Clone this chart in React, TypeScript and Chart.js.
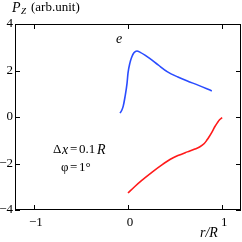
import React, { useEffect, useRef } from "react";
import { Chart, registerables } from "chart.js";
Chart.register(...registerables);

const blueX = [-0.084, -0.065, -0.05, -0.032, -0.01, 0.0, 0.02, 0.04, 0.063, 0.095, 0.13, 0.18, 0.23, 0.32, 0.42, 0.53, 0.63, 0.75, 0.89];
const blueY = [0.17, 0.3, 0.48, 0.86, 1.46, 1.89, 2.32, 2.58, 2.76, 2.84, 2.78, 2.66, 2.52, 2.24, 1.94, 1.72, 1.55, 1.36, 1.12];
const redX = [0.0, 0.07, 0.14, 0.26, 0.36, 0.45, 0.53, 0.63, 0.71, 0.76, 0.81, 0.84, 0.86, 0.89, 0.92, 0.95, 0.97, 1.0];
const redY = [-3.27, -3.0, -2.75, -2.36, -2.06, -1.82, -1.66, -1.5, -1.38, -1.29, -1.14, -0.98, -0.86, -0.66, -0.43, -0.24, -0.13, -0.03];
const xTicks = [-1, 0, 1];
const yTicks = [-4, -2, 0, 2, 4];
const xLabels = ["\u22121", "0", "1"];
const yLabels = ["\u22124", "\u22122", "0", "2", "4"];

const SERIF = "'Times New Roman', 'Liberation Serif', serif";

const framePlugin = {
  id: "frame",
  afterDraw(chart: any) {
    const { ctx, chartArea: a, scales } = chart;
    const xs = scales.x, ys = scales.y;
    ctx.save();
    ctx.strokeStyle = "#000";
    ctx.lineWidth = 1;
    ctx.strokeRect(a.left + 0.5, a.top + 0.5, a.right - a.left - 1, a.bottom - a.top - 1);
    ctx.beginPath();
    const tl = 5;
    xTicks.forEach((v) => {
      const p = Math.round(xs.getPixelForValue(v)) + 0.5;
      ctx.moveTo(p, a.bottom); ctx.lineTo(p, a.bottom - tl);
      ctx.moveTo(p, a.top); ctx.lineTo(p, a.top + tl);
    });
    yTicks.forEach((v) => {
      const p = Math.round(ys.getPixelForValue(v)) + 0.5;
      ctx.moveTo(a.left, p); ctx.lineTo(a.left + tl, p);
      ctx.moveTo(a.right, p); ctx.lineTo(a.right - tl, p);
    });
    ctx.stroke();
    ctx.fillStyle = "#000";
    ctx.font = "13px " + SERIF;
    ctx.textBaseline = "middle";
    ctx.textAlign = "right";
    yTicks.forEach((v, i) => {
      ctx.fillText(yLabels[i], a.left - 2, ys.getPixelForValue(v));
    });
    ctx.textAlign = "center";
    xTicks.forEach((v, i) => {
      ctx.fillText(xLabels[i], xs.getPixelForValue(v) + 2, a.bottom + 13);
    });
    ctx.textAlign = "left";
    ctx.font = "italic 14px " + SERIF;
    ctx.fillText("r/R", 200, 233);
    ctx.font = "italic 14px " + SERIF;
    ctx.fillText("P", 12, 8);
    ctx.font = "italic 9px " + SERIF;
    ctx.fillText("Z", 21, 12);
    ctx.font = "13px " + SERIF;
    ctx.fillText("(arb.unit)", 31, 8);
    ctx.font = "italic 14px " + SERIF;
    ctx.fillText("e", 116, 39);
    ctx.font = "13px " + SERIF;
    ctx.fillText("\u0394", 53, 150);
    ctx.font = "italic 14px " + SERIF;
    ctx.fillText("x", 62, 150);
    ctx.font = "13px " + SERIF;
    ctx.fillText("=", 70, 150);
    ctx.fillText("0.1", 79, 150);
    ctx.font = "italic 14px " + SERIF;
    ctx.fillText("R", 97, 150);
    ctx.font = "13px " + SERIF;
    ctx.fillText("\u03c6", 61, 168);
    ctx.fillText("=", 70, 168);
    ctx.fillText("1\u00b0", 79, 168);
    ctx.restore();
  },
};

export default function App() {
  const ref = useRef<HTMLCanvasElement>(null);
  useEffect(() => {
    document.body.style.margin = "0";
    const chart = new Chart(ref.current!, {
      type: "scatter",
      data: {
        datasets: [
          {
            data: blueX.map((x, i) => ({ x, y: blueY[i] })),
            showLine: true,
            borderColor: "#2a4cff",
            borderWidth: 1.6,
            pointRadius: 0,
            cubicInterpolationMode: "monotone",
          },
          {
            data: redX.map((x, i) => ({ x, y: redY[i] })),
            showLine: true,
            borderColor: "#ff1a1a",
            borderWidth: 1.6,
            pointRadius: 0,
            cubicInterpolationMode: "monotone",
          },
        ],
      },
      options: {
        responsive: false,
        animation: false,
        layout: { padding: { left: 15, right: 1, top: 24, bottom: 32 } },
        plugins: { legend: { display: false }, tooltip: { enabled: false } },
        scales: {
          x: { type: "linear", min: -1.2, max: 1.2, display: false },
          y: { type: "linear", min: -4, max: 4, display: false },
        },
      },
      plugins: [framePlugin],
    } as any);
    return () => chart.destroy();
  }, []);
  return (
    <div style={{ position: "absolute", left: 0, top: 0, width: 242, height: 242, background: "#fff" }}>
      <canvas ref={ref} width={242} height={242} />
    </div>
  );
}
